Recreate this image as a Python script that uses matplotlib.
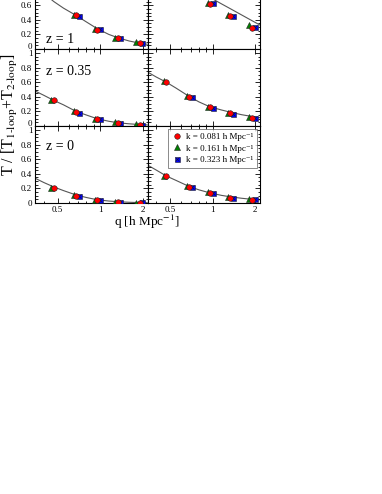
import numpy as np
import matplotlib
matplotlib.use('Agg')
import matplotlib.pyplot as plt
import matplotlib.transforms as mtrans
from matplotlib.ticker import FixedLocator, FixedFormatter, MultipleLocator
from matplotlib.legend_handler import HandlerTuple

nan = np.nan

# q bins for each k (small offsets between the three k values)
q_red = [0.47, 0.675, 0.95, 1.33, 1.9]
q_green = [0.45, 0.655, 0.92, 1.28, 1.8]
q_blue = [0.49, 0.71, 1.0, 1.39, 1.98]

k_labels = ['k = 0.081 h Mpc\u207b\u00b9', 'k = 0.161 h Mpc\u207b\u00b9',
            'k = 0.323 h Mpc\u207b\u00b9']
z_labels = ['z = 1', 'z = 0.35', 'z = 0']

# left column
L_z1_red = [nan, 0.46, 0.265, 0.147, 0.078]
L_z1_green = [nan, 0.47, 0.28, 0.155, 0.09]
L_z1_blue = [nan, 0.45, 0.27, 0.147, 0.078]
L_z035_red = [0.36, 0.19, 0.095, 0.045, 0.02]
L_z035_green = [0.36, 0.2, 0.1, 0.05, 0.025]
L_z035_blue = [nan, 0.18, 0.09, 0.045, 0.02]
L_z0_red = [0.21, 0.092, 0.037, 0.014, 0.005]
L_z0_green = [0.21, 0.105, 0.047, 0.02, 0.006]
L_z0_blue = [nan, 0.09, 0.037, 0.014, 0.008]

# right column
R_z1_red = [nan, nan, 0.62, 0.456, 0.29]
R_z1_green = [nan, nan, 0.635, 0.465, 0.33]
R_z1_blue = [nan, nan, 0.63, 0.45, 0.295]
R_z035_red = [0.6, 0.40, 0.256, 0.174, 0.105]
R_z035_green = [0.61, 0.415, 0.265, 0.18, 0.12]
R_z035_blue = [nan, 0.395, 0.25, 0.17, 0.105]
R_z0_red = [0.37, 0.223, 0.14, 0.073, 0.037]
R_z0_green = [0.37, 0.235, 0.15, 0.085, 0.055]
R_z0_blue = [nan, 0.215, 0.14, 0.073, 0.055]

# theory curves
q_curve = [0.346, 0.4, 0.47, 0.55, 0.675, 0.8, 0.95, 1.15, 1.33, 1.6, 1.9,
           2.15]
L_z1_curve = [0.88, 0.76, 0.65, 0.56, 0.46, 0.37, 0.28, 0.2, 0.155, 0.11,
              0.08, 0.065]
L_z035_curve = [0.48, 0.42, 0.35, 0.29, 0.2, 0.15, 0.1, 0.065, 0.045, 0.03,
                0.02, 0.015]
L_z0_curve = [0.34, 0.28, 0.22, 0.17, 0.11, 0.075, 0.045, 0.027, 0.018, 0.01,
              0.006, 0.004]
R_z1_curve = [1.6, 1.4, 1.25, 1.1, 0.94, 0.83, 0.71, 0.62, 0.553, 0.467,
              0.387, 0.33]
R_z035_curve = [0.74, 0.67, 0.6, 0.52, 0.41, 0.33, 0.265, 0.22, 0.19, 0.155,
                0.13, 0.115]
R_z0_curve = [0.52, 0.45, 0.37, 0.31, 0.23, 0.18, 0.14, 0.105, 0.085, 0.065,
              0.05, 0.045]


def main():
    plt.rcParams['font.family'] = ['Liberation Serif', 'DejaVu Serif']
    plt.rcParams['mathtext.fontset'] = 'stix'

    fig = plt.figure(figsize=(3.82, 4.94), dpi=100)

    W, H = 382.0, 494.0
    colLeft = [35, 147.5]
    colW = 112.5
    rowBottom = [49, 126, 203]  # pixel rows from top
    rowH = 77

    panels = [
        [(L_z1_red, L_z1_green, L_z1_blue, L_z1_curve),
         (R_z1_red, R_z1_green, R_z1_blue, R_z1_curve)],
        [(L_z035_red, L_z035_green, L_z035_blue, L_z035_curve),
         (R_z035_red, R_z035_green, R_z035_blue, R_z035_curve)],
        [(L_z0_red, L_z0_green, L_z0_blue, L_z0_curve),
         (R_z0_red, R_z0_green, R_z0_blue, R_z0_curve)],
    ]
    zTextY = [0.08, 0.66, 0.69]

    # Small upward shift for the "0" labels so they clear the "1" below.
    upShift = mtrans.ScaledTranslation(0, 2.0/72, fig.dpi_scale_trans)

    handles = None
    for r in range(3):
        for c in range(2):
            rect = [colLeft[c]/W, 1 - rowBottom[r]/H, colW/W, rowH/H]
            ax = fig.add_axes(rect)
            red, green, blue, curve = panels[r][c]

            ax.plot(q_curve, curve, color='#555555', lw=0.8, zorder=1)
            hg, = ax.plot(q_green, green, ls='none', marker='^', ms=4,
                          mfc='#008000', mec='#222222', mew=0.4, zorder=3)
            hb, = ax.plot(q_blue, blue, ls='none', marker='s', ms=3.6,
                          mfc='#0000ff', mec='#222222', mew=0.4, zorder=3)
            hx, = ax.plot(q_blue, blue, ls='none', marker='x', ms=2.6,
                          mec='#111144', mew=0.5, zorder=4)
            hr, = ax.plot(q_red, red, ls='none', marker='o', ms=4,
                          mfc='#ff0000', mec='#222222', mew=0.4, zorder=5)
            if handles is None:
                handles = [hr, hg, (hb, hx)]

            ax.set_xscale('log')
            ax.set_xlim(0.346, 2.16)
            ax.set_ylim(0, 1.055)
            ax.xaxis.set_major_locator(FixedLocator([0.5, 1, 2]))
            ax.xaxis.set_minor_locator(FixedLocator([0.4, 0.6, 0.7, 0.8,
                                                     0.9]))
            ax.xaxis.set_major_formatter(FixedFormatter(['0.5', '1', '2']))
            ax.xaxis.set_minor_formatter(FixedFormatter([]))
            ax.yaxis.set_major_locator(FixedLocator([0, 0.2, 0.4, 0.6, 0.8,
                                                     1.0]))
            ax.yaxis.set_major_formatter(FixedFormatter(
                ['0', '0.2', '0.4', '0.6', '0.8', '1']))
            ax.yaxis.set_minor_locator(MultipleLocator(0.05))
            ax.tick_params(which='both', direction='in', top=True,
                           right=True, labelsize=6.5, pad=2, width=0.6)
            ax.tick_params(which='major', length=3.5)
            ax.tick_params(which='minor', length=1.8)
            for s in ax.spines.values():
                s.set_linewidth(0.8)
            if c == 1:
                ax.tick_params(labelleft=False)
            if r < 2:
                ax.tick_params(labelbottom=False)
            if c == 0:
                ax.text(0.1, zTextY[r], z_labels[r], transform=ax.transAxes,
                        fontsize=10, va='baseline', ha='left')
                if r < 2:
                    fig.canvas.draw()
                    lab0 = ax.yaxis.get_majorticklabels()[0]
                    lab0.set_transform(lab0.get_transform() + upShift)
            if r == 2 and c == 1:
                leg = ax.legend(handles, k_labels, loc='upper right',
                                fontsize=6.5, frameon=True, fancybox=False,
                                edgecolor='#555555', handlelength=0.9,
                                handletextpad=0.6, borderpad=0.45,
                                labelspacing=0.35, borderaxespad=0.3,
                                handler_map={tuple: HandlerTuple(ndivide=1)})
                leg.get_frame().set_linewidth(0.6)

    fig.text(10/W, 1 - 115/H,
             r'T / [T$_{\mathrm{1\text{-}loop}}$+T$_{\mathrm{2\text{-}loop}}$]',
             rotation=90, fontsize=11.5, ha='center', va='center')
    fig.text(147/W, 1 - 222/H, 'q [h Mpc$^{-1}$]', fontsize=9.5,
             ha='center', va='center')

    plt.savefig('out.png', dpi=100)


# Invoke the main function here.
if __name__ == "__main__":
    main()
